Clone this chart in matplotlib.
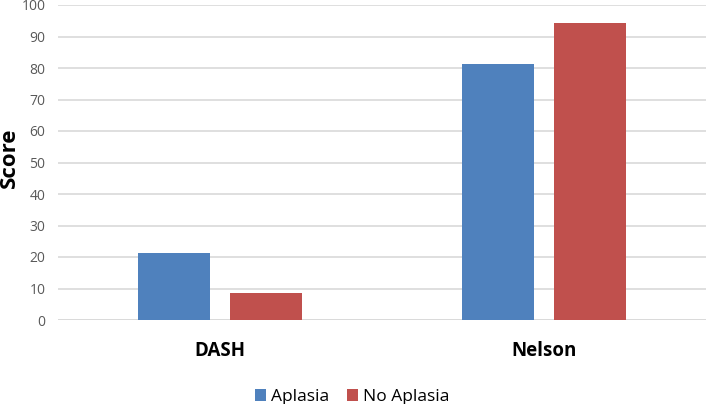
import numpy as np
import matplotlib.pyplot as plt

categories = ['DASH', 'Nelson']
aplasia = [21.4, 81.2]
no_aplasia = [8.7, 94.3]
y_ticks = list(range(0, 101, 10))

plt.rcParams['font.family'] = ['Open Sans', 'DejaVu Sans']

fig = plt.figure(figsize=(7.08, 4.04), dpi=100)
ax = fig.add_axes([58 / 708, 84 / 404, 648 / 708, 315 / 404])

x = np.arange(len(categories))
w = 0.222
off = 0.142
ax.bar(x - off, aplasia, w, color='#4F81BD', label='Aplasia', zorder=3)
ax.bar(x + off, no_aplasia, w, color='#C0504D', label='No Aplasia', zorder=3)

ax.set_xlim(-0.5, 1.5)
ax.set_ylim(0, 100)
ax.set_yticks(y_ticks)
ax.yaxis.grid(True, color='#D9D9D9', linewidth=1.2, zorder=0)
ax.set_axisbelow(True)
for s in ax.spines.values():
    s.set_visible(False)
ax.tick_params(axis='y', length=0, labelsize=10, labelcolor='#595959', pad=9)
ax.tick_params(axis='x', length=0, pad=15)
ax.set_xticks(x)
ax.set_xticklabels(categories, fontsize=13.5, fontweight='bold')
ax.set_ylabel('Score', fontsize=16, fontweight='bold')
ax.yaxis.set_label_coords(-0.058, 0.515)

# baseline
ax.axhline(0, color='#D9D9D9', linewidth=1.2, zorder=1)

ax.legend(loc='center', bbox_to_anchor=(0.454, -0.245), ncol=2, frameon=False,
          fontsize=12.5, handlelength=0.65, handleheight=0.65, handletextpad=0.3,
          columnspacing=1.0)

fig.savefig('out.png', dpi=100)
